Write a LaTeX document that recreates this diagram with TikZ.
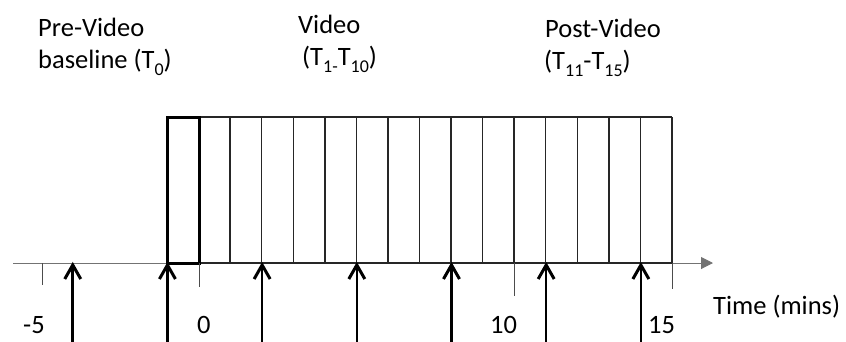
\documentclass[tikz,border=0pt]{standalone}
\usepackage{fontspec}
\setmainfont{Carlito}
\usetikzlibrary{arrows.meta}
\newcommand{\mysub}[1]{\raisebox{-7.5pt}{\fontsize{18}{18}\selectfont #1}}
\begin{document}
\begin{tikzpicture}[x=1pt,y=-1pt,
  lbl/.style={anchor=base west,inner sep=0pt,font=\fontsize{26.5}{32}\selectfont},
  grid line/.style={line width=1.4pt,draw=black!85},
  axis line/.style={line width=1pt,draw=black!55},
  bold box/.style={line width=3pt,draw=black},
  tickline/.style={line width=1pt,draw=black!70},
  sample/.style={line width=2.6pt,draw=black},
  barb/.style={line width=3pt,draw=black,line join=miter}]
\useasboundingbox (0,0) rectangle (846,341);
\def\u{31.5625}
% labels
\node[lbl] (pre1) at (38,36) {Pre-Video};
\node[lbl] (pre2) at (38,68) {baseline (T\mysub{0})};
\node[lbl] (vid1) at (298,33) {Video};
\node[lbl] (vid2) at (302,65) {(T\mysub{1-}T\mysub{10})};
\node[lbl] (post1) at (545,37) {Post-Video};
\node[lbl] (post2) at (544,69) {(T\mysub{11}-T\mysub{15})};
% axis
\coordinate (axstart) at (13,263);
\coordinate (axend) at (713,263);
\draw[axis line,-{Triangle[length=12pt,width=12pt]}] (axstart) -- (axend);
% grid
\foreach \k in {0,...,16}{
  \draw[grid line] ({167+\k*\u},117) -- ({167+\k*\u},263);
}
\draw[grid line] (167,117) -- (672,117);
\draw[grid line] (167,263) -- (672,263);
\draw[bold box] (167,117) rectangle (199,263);
% ticks
\draw[tickline] (42,263) -- (42,285);
\draw[tickline] (199,263) -- (199,287);
\draw[tickline] ({199+10*\u},263) -- ({199+10*\u},296);
\draw[tickline] (672,263) -- (672,289);
% sample arrows
\foreach \t in {-4,-1,2,5,8,11,14}{
  \coordinate (b\t) at ({199+\t*\u},345);
  \coordinate (a\t) at ({199+\t*\u},265);
  \draw[sample] (b\t) -- (a\t);
  \draw[barb] (a\t) ++(-8,14) -- (a\t) -- ++(8,14);
}
% tick labels
\node[lbl] (m5) at (23,333) {-5};
\node[lbl] (z0) at (197,333) {0};
\node[lbl] (t10) at (490,333) {10};
\node[lbl] (t15) at (648,333) {15};
\node[lbl] (time) at (713,314) {Time (mins)};
\end{tikzpicture}
\end{document}
